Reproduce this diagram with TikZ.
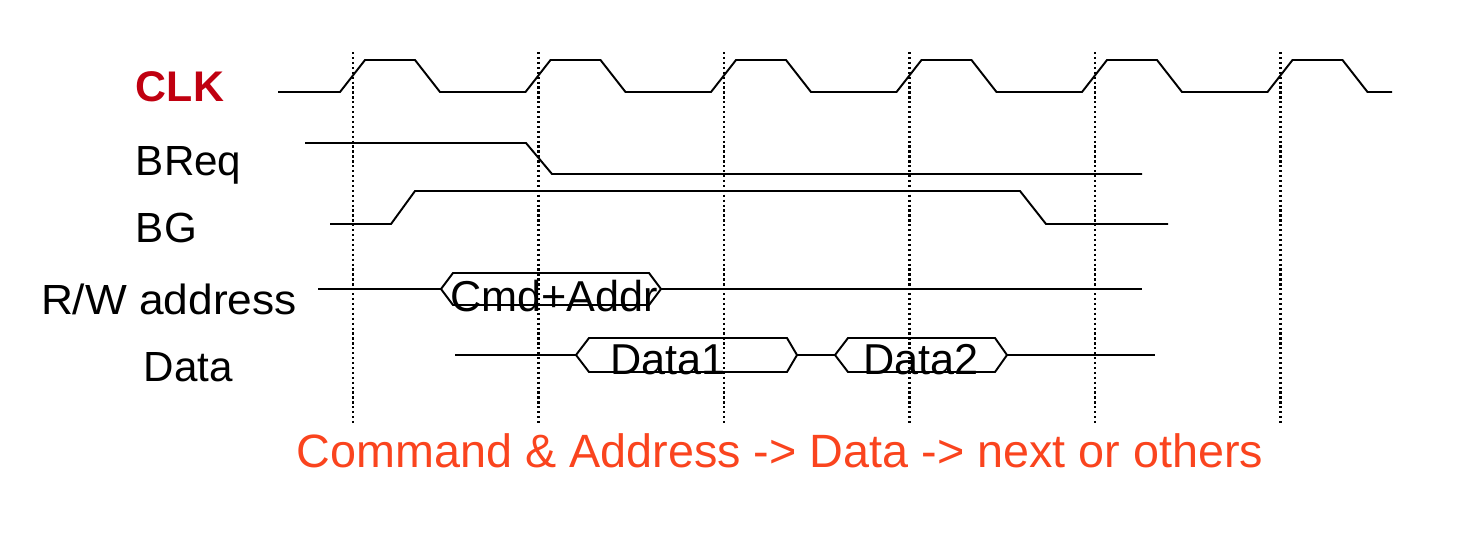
\documentclass[tikz,border=0pt]{standalone}
\usepackage{fontspec}
\setmainfont{Liberation Sans}
\definecolor{clkred}{RGB}{192,0,16}
\definecolor{noteorange}{RGB}{250,68,30}

\begin{document}
\begin{tikzpicture}[x=0.02cm,y=-0.02cm,line width=1.1pt,
  tick/.style={line width=1.4pt,dash pattern=on 1.3pt off 1.5pt},
  lbl/.style={font=\fontsize{24}{28}\selectfont,inner sep=0pt,anchor=base west},
  busval/.style={font=\fontsize{24.6}{28}\selectfont,inner sep=0pt,anchor=base}]
\useasboundingbox (0,0) rectangle (1470,556);
\foreach \k in {0,...,5}{\draw[tick] ({353+185.5*\k},52) -- ({353+185.5*\k},425);}
\node[lbl,font=\fontsize{24.4}{28}\selectfont\bfseries,clkred] (clk) at (135,101) {CLK};
\node[lbl] (breq) at (135,175) {BReq};
\node[lbl] (bg) at (135,242) {BG};
\node[lbl,xscale=1.05] (rw) at (40,314) {R/W address};
\node[lbl] (data) at (143,381) {Data};
\draw (278,92) \foreach \k in {0,...,5}{ -- ({340+185.5*\k},92) -- ({365+185.5*\k},60) -- ({415+185.5*\k},60) -- ({440+185.5*\k},92)} -- (1392,92);
\draw (305,143) -- (526,143) -- (552,174) -- (1142,174);
\draw (330,224) -- (391,224) -- (415,191) -- (1020,191) -- (1046,224) -- (1168,224);
\draw (318,289) -- (441,289);
\draw (441,289) -- (453,273) -- (649,273) -- (661,289) -- (649,305) -- (453,305) -- cycle;
\draw (661,289) -- (1142,289);
\node[busval] (cmd) at (554,311) {Cmd+Addr};
\draw (455,355) -- (576,355);
\draw (576,355) -- (589,338) -- (787,338) -- (797,355) -- (787,372) -- (589,372) -- cycle;
\draw (797,355) -- (835,355);
\draw (835,355) -- (848,338) -- (995,338) -- (1007,355) -- (995,372) -- (848,372) -- cycle;
\draw (1007,355) -- (1155,355);
\node[busval] (dataA) at (668,374) {Data1};
\node[busval] (dataB) at (921,374) {Data2};
\node[busval,font=\fontsize{26.6}{30}\selectfont,noteorange] (note) at (780,467) {Command \& Address -> Data -> next or others};
\end{tikzpicture}
\end{document}
